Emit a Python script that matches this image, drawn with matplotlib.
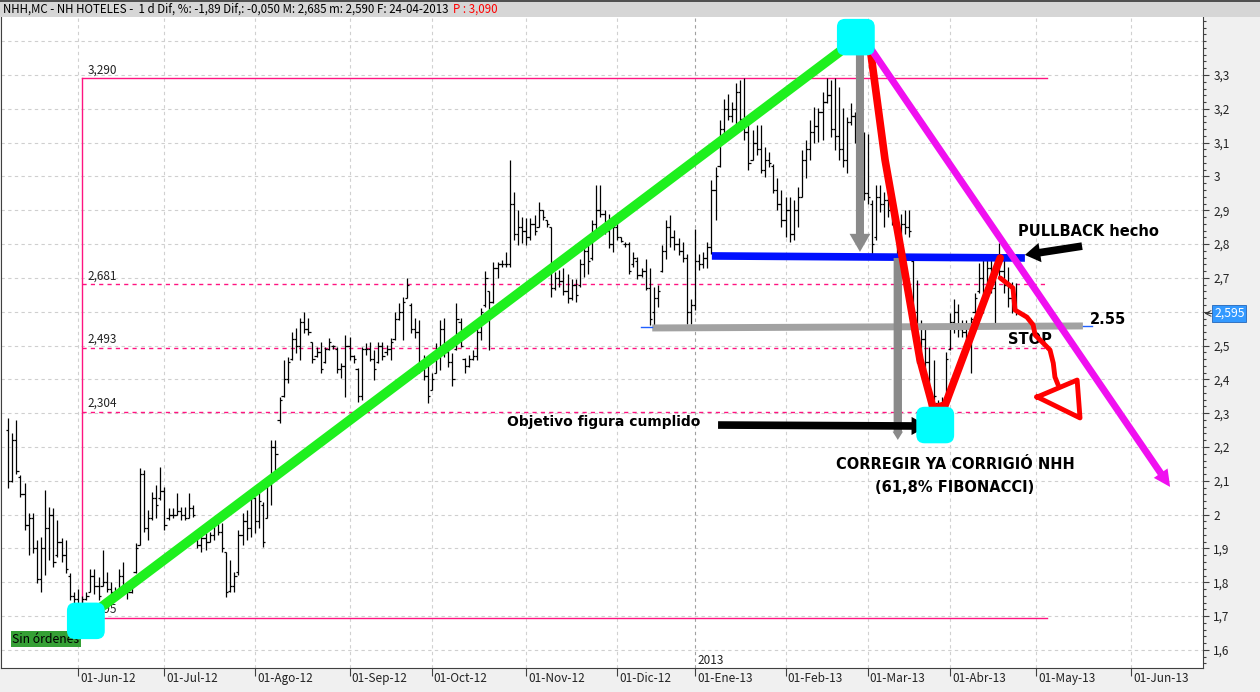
import matplotlib.pyplot as plt
import matplotlib.patches as mpatches
import matplotlib.ticker as mticker
import numpy as np
import pandas as pd

plt.rcParams['font.family'] = ['DejaVu Sans']
UI = ['Noto Sans CJK KR', 'DejaVu Sans']

# Barras diarias NHH.MC, 09-05-2012 .. 24-04-2013
highs = [
    2.285, 2.24, 2.28, 2.117, 2.093, 2.004, 2.004, 1.925, 1.935, 2.073,
    2.024, 2.019, 1.984, 1.93, 1.925, 1.827, 1.772, 1.78, 1.76, 1.772,
    1.84, 1.84, 1.817, 1.895, 1.83, 1.80, 1.787, 1.84, 1.86, 1.782,
    1.806, 1.915, 2.137, 2.132, 2.014, 2.068, 2.088, 2.142, 2.083, 2.019,
    2.019, 2.063, 2.024, 2.024, 2.063, 2.029, 1.955, 1.95, 1.945, 1.95,
    1.994, 1.994, 1.974, 1.89, 1.866, 1.831, 1.955, 2.004, 2.014, 2.068,
    2.053, 2.07, 2.037, 2.10, 2.221, 2.221, 2.349, 2.458, 2.467, 2.541,
    2.551, 2.581, 2.60, 2.581, 2.512, 2.497, 2.512, 2.497, 2.522, 2.502,
    2.497, 2.448, 2.531, 2.526, 2.472, 2.433, 2.497, 2.507, 2.512, 2.487,
    2.512, 2.512, 2.502, 2.522, 2.60, 2.625, 2.645, 2.699, 2.625, 2.581,
    2.576, 2.472, 2.458, 2.418, 2.507, 2.576, 2.581, 2.507, 2.477, 2.625,
    2.581, 2.462, 2.472, 2.487, 2.551, 2.61, 2.719, 2.66, 2.748, 2.748,
    2.753, 2.778, 3.049, 2.955, 2.90, 2.88, 2.876, 2.876, 2.886, 2.925,
    2.90, 2.87, 2.851, 2.718, 2.723, 2.728, 2.713, 2.698, 2.698, 2.757,
    2.792, 2.817, 2.871, 2.974, 2.974, 2.90, 2.89, 2.871, 2.89, 2.822,
    2.807, 2.807, 2.777, 2.762, 2.728, 2.757, 2.728, 2.674, 2.679, 2.797,
    2.871, 2.886, 2.841, 2.817, 2.807, 2.772, 2.639, 2.846, 2.772, 2.777,
    2.807, 2.989, 3.029, 3.167, 3.23, 3.245, 3.22, 3.275, 3.285, 3.29,
    3.152, 3.137, 3.152, 3.152, 3.088, 3.073, 3.038, 2.994, 2.96, 2.94,
    2.94, 2.93, 2.969, 3.078, 3.107, 3.167, 3.206, 3.201, 3.25, 3.29,
    3.285, 3.29, 3.265, 3.201, 3.176, 3.216, 3.191, 3.15, 3.13, 3.127,
    2.93, 2.974, 2.974, 2.955, 2.94, 2.91, 2.88, 2.89, 2.90, 2.90,
    2.752, 2.693, 2.575, 2.555, 2.496, 2.457, 2.339, 2.349, 2.482, 2.595,
    2.639, 2.624, 2.575, 2.575, 2.585, 2.654, 2.743, 2.752, 2.752, 2.757,
    2.772, 2.802, 2.762, 2.733, 2.688, 2.685]
lows = [
    2.078, 2.098, 2.12, 2.053, 1.955, 1.881, 1.886, 1.797, 1.772, 1.822,
    1.866, 1.846, 1.876, 1.861, 1.827, 1.748, 1.738, 1.70, 1.695, 1.748,
    1.77, 1.765, 1.748, 1.79, 1.77, 1.758, 1.748, 1.762, 1.767, 1.752,
    1.767, 1.827, 1.91, 1.95, 1.925, 1.984, 1.989, 2.043, 1.955, 1.984,
    1.989, 1.999, 1.984, 1.984, 1.989, 1.994, 1.90, 1.89, 1.895, 1.92,
    1.925, 1.94, 1.89, 1.758, 1.772, 1.772, 1.822, 1.91, 1.925, 1.935,
    1.945, 1.96, 1.904, 1.99, 2.03, 2.10, 2.27, 2.349, 2.388, 2.458,
    2.477, 2.458, 2.536, 2.531, 2.448, 2.467, 2.418, 2.448, 2.487, 2.49,
    2.418, 2.403, 2.349, 2.458, 2.448, 2.334, 2.339, 2.472, 2.453, 2.398,
    2.448, 2.458, 2.472, 2.458, 2.517, 2.576, 2.517, 2.64, 2.536, 2.522,
    2.418, 2.398, 2.33, 2.369, 2.418, 2.428, 2.467, 2.438, 2.379, 2.487,
    2.497, 2.418, 2.438, 2.458, 2.458, 2.517, 2.615, 2.487, 2.625, 2.699,
    2.733, 2.733, 2.733, 2.812, 2.797, 2.802, 2.797, 2.812, 2.827, 2.851,
    2.871, 2.851, 2.644, 2.664, 2.674, 2.649, 2.625, 2.634, 2.629, 2.674,
    2.703, 2.713, 2.753, 2.846, 2.881, 2.831, 2.787, 2.777, 2.812, 2.807,
    2.792, 2.713, 2.733, 2.698, 2.703, 2.664, 2.56, 2.56, 2.615, 2.718,
    2.757, 2.792, 2.782, 2.767, 2.748, 2.565, 2.565, 2.605, 2.723, 2.728,
    2.728, 2.772, 2.871, 3.029, 3.117, 3.167, 3.162, 3.152, 3.162, 3.107,
    3.019, 3.048, 3.063, 3.009, 2.999, 3.029, 2.95, 2.90, 2.851, 2.822,
    2.807, 2.812, 2.851, 2.94, 2.994, 3.048, 3.098, 3.102, 3.107, 3.216,
    3.117, 3.078, 3.048, 3.029, 3.009, 3.152, 3.098, 3.0, 2.93, 2.92,
    2.772, 2.812, 2.895, 2.851, 2.881, 2.856, 2.772, 2.772, 2.831, 2.822,
    2.575, 2.447, 2.486, 2.432, 2.319, 2.339, 2.30, 2.31, 2.319, 2.486,
    2.536, 2.526, 2.526, 2.496, 2.418, 2.595, 2.654, 2.595, 2.664, 2.654,
    2.565, 2.703, 2.654, 2.615, 2.595, 2.59]
opens = [
    2.25, 2.10, 2.22, 2.11, 2.06, 1.97, 1.99, 1.90, 1.81, 1.90,
    1.96, 2.00, 1.88, 1.92, 1.88, 1.82, 1.76, 1.75, 1.72, 1.75,
    1.77, 1.82, 1.79, 1.79, 1.80, 1.78, 1.77, 1.77, 1.82, 1.78,
    1.77, 1.83, 1.91, 2.12, 1.96, 1.99, 2.05, 2.05, 2.07, 1.99,
    2.00, 2.00, 2.01, 2.00, 1.99, 2.02, 1.95, 1.91, 1.93, 1.92,
    1.94, 1.98, 1.95, 1.89, 1.775, 1.79, 1.83, 1.94, 1.98, 1.96,
    2.05, 1.98, 2.03, 1.99, 2.09, 2.20, 2.28, 2.35, 2.40, 2.46,
    2.52, 2.50, 2.57, 2.55, 2.51, 2.47, 2.48, 2.45, 2.49, 2.50,
    2.49, 2.43, 2.44, 2.50, 2.47, 2.43, 2.35, 2.49, 2.49, 2.46,
    2.45, 2.50, 2.48, 2.49, 2.52, 2.58, 2.60, 2.64, 2.62, 2.55,
    2.54, 2.44, 2.41, 2.37, 2.42, 2.49, 2.55, 2.48, 2.45, 2.49,
    2.57, 2.46, 2.44, 2.46, 2.47, 2.54, 2.62, 2.66, 2.63, 2.73,
    2.74, 2.74, 2.74, 2.92, 2.83, 2.85, 2.84, 2.82, 2.86, 2.85,
    2.90, 2.87, 2.85, 2.67, 2.70, 2.69, 2.66, 2.64, 2.68, 2.68,
    2.74, 2.78, 2.76, 2.86, 2.90, 2.89, 2.84, 2.80, 2.85, 2.82,
    2.80, 2.80, 2.74, 2.75, 2.71, 2.72, 2.67, 2.60, 2.64, 2.72,
    2.78, 2.85, 2.82, 2.80, 2.78, 2.76, 2.60, 2.62, 2.75, 2.74,
    2.76, 2.79, 2.96, 3.03, 3.14, 3.20, 3.18, 3.20, 3.25, 3.17,
    3.13, 3.05, 3.10, 3.08, 3.02, 3.05, 3.03, 2.96, 2.92, 2.87,
    2.90, 2.83, 2.90, 2.94, 3.05, 3.08, 3.13, 3.15, 3.19, 3.22,
    3.24, 3.14, 3.12, 3.08, 3.05, 3.16, 3.18, 3.11, 3.02, 2.95,
    2.92, 2.82, 2.94, 2.92, 2.93, 2.90, 2.87, 2.79, 2.86, 2.85,
    2.75, 2.60, 2.50, 2.52, 2.45, 2.34, 2.33, 2.32, 2.33, 2.49,
    2.57, 2.60, 2.55, 2.54, 2.52, 2.60, 2.66, 2.70, 2.67, 2.73,
    2.67, 2.75, 2.72, 2.68, 2.64, 2.645]
closes = [
    2.10, 2.22, 2.13, 2.06, 1.97, 1.99, 1.90, 1.81, 1.90, 1.96,
    2.00, 1.86, 1.92, 1.88, 1.84, 1.76, 1.75, 1.72, 1.75, 1.76,
    1.82, 1.79, 1.76, 1.80, 1.78, 1.77, 1.76, 1.82, 1.78, 1.77,
    1.79, 1.90, 2.12, 1.96, 1.99, 2.05, 2.03, 2.07, 1.97, 2.00,
    2.00, 2.01, 2.00, 1.99, 2.02, 2.00, 1.91, 1.93, 1.92, 1.94,
    1.98, 1.95, 1.90, 1.77, 1.79, 1.82, 1.94, 1.98, 1.96, 2.05,
    1.98, 2.04, 1.92, 2.09, 2.20, 2.18, 2.34, 2.40, 2.45, 2.52,
    2.50, 2.57, 2.55, 2.54, 2.46, 2.48, 2.43, 2.49, 2.51, 2.50,
    2.43, 2.44, 2.50, 2.47, 2.46, 2.35, 2.49, 2.49, 2.46, 2.43,
    2.50, 2.47, 2.49, 2.51, 2.58, 2.60, 2.63, 2.68, 2.55, 2.54,
    2.44, 2.41, 2.35, 2.40, 2.49, 2.55, 2.48, 2.45, 2.40, 2.58,
    2.50, 2.44, 2.46, 2.47, 2.54, 2.60, 2.70, 2.63, 2.73, 2.74,
    2.74, 2.74, 2.92, 2.83, 2.85, 2.84, 2.82, 2.86, 2.84, 2.90,
    2.88, 2.86, 2.67, 2.70, 2.69, 2.66, 2.64, 2.68, 2.65, 2.74,
    2.78, 2.75, 2.86, 2.90, 2.89, 2.84, 2.80, 2.85, 2.82, 2.81,
    2.80, 2.72, 2.76, 2.71, 2.72, 2.67, 2.58, 2.64, 2.66, 2.78,
    2.85, 2.82, 2.80, 2.78, 2.76, 2.60, 2.62, 2.75, 2.74, 2.76,
    2.79, 2.96, 3.00, 3.14, 3.20, 3.18, 3.20, 3.25, 3.17, 3.13,
    3.04, 3.10, 3.08, 3.02, 3.05, 3.04, 2.96, 2.92, 2.87, 2.90,
    2.83, 2.90, 2.94, 3.05, 3.08, 3.13, 3.15, 3.19, 3.22, 3.24,
    3.14, 3.12, 3.08, 3.05, 3.16, 3.18, 3.11, 3.02, 2.95, 2.94,
    2.80, 2.94, 2.92, 2.93, 2.90, 2.87, 2.79, 2.86, 2.85, 2.84,
    2.60, 2.50, 2.52, 2.45, 2.34, 2.35, 2.32, 2.33, 2.46, 2.57,
    2.60, 2.55, 2.54, 2.52, 2.58, 2.64, 2.70, 2.66, 2.73, 2.67,
    2.75, 2.72, 2.68, 2.64, 2.645, 2.595]

festivos = ['2012-12-25', '2012-12-26', '2013-01-01', '2013-03-29', '2013-04-01']
meses = ['Ene', 'Feb', 'Mar', 'Abr', 'May', 'Jun', 'Jul', 'Ago', 'Sep', 'Oct', 'Nov', 'Dic']
inicios_mes = pd.date_range('2012-06-01', '2013-06-01', freq='MS')

# Fibonacci (minimo 1,695 -> maximo 3,290)
fib_extremos = [3.290, 1.695]
fib_niveles = [2.681, 2.493, 2.304]
fib_fin = 252.5

ultimo = 2.595
cabecera = 'NHH,MC - NH HOTELES -  1 d Dif, %: -1,89 Dif,: -0,050 M: 2,685 m: 2,590 F: 24-04-2013'
cabecera_p = 'P : 3,090'

# dibujos a mano sobre el grafico (indice de barra, precio)
verde = ([19.4, 204.7], [1.697, 3.392])
magenta = ((208.6, 3.398), (282.5, 2.082))
rojo = ([208.6, 209.8, 213.2, 217.5, 221.7, 224.9, 227.8, 241.2],
        [3.403, 3.359, 3.049, 2.753, 2.458, 2.315, 2.324, 2.759])
rojo_garabato = ([241.2, 244.3, 244.8, 247.7, 249.2, 249.7, 251.6, 253.3, 254.1, 254.5, 255.3],
                 [2.700, 2.670, 2.605, 2.584, 2.561, 2.531, 2.508, 2.487, 2.448, 2.407, 2.383])
rojo_punta = ([250.2, 259.9, 260.6, 250.2], [2.348, 2.398, 2.286, 2.348])
azul = ([171.1, 247.2], [2.765, 2.759])
stop = ([156.6, 261.3], [2.552, 2.558])
cajas = [(18.9, 1.686), (206.1, 3.412), (225.4, 2.265)]

dias = pd.bdate_range('2012-05-09', '2013-04-24', freq='C', holidays=festivos)
calendario = dias.append(pd.bdate_range('2013-04-25', '2013-07-31'))
x = np.arange(len(highs))

fig = plt.figure(figsize=(12.6, 6.92), dpi=100, facecolor='#f0f0f0')
ax = fig.add_axes([1 / 1260, 24 / 692, 1202 / 1260, 651 / 692])
ax.set_facecolor('white')
ax.set_xlim(-1.73, 290.5)
ax.set_ylim(1.5466, 3.4715)

# rejilla
for v in np.arange(1.6, 3.45, 0.1):
    ax.axhline(v, color='#cfcfcf', lw=0.8, dashes=(3, 3), zorder=0)
ticks = [calendario.searchsorted(d) for d in inicios_mes]
for d, t in zip(inicios_mes, ticks):
    c = '#a0a0a0' if d.month == 1 else '#d0d0d0'
    ax.axvline(t, color=c, lw=0.8, dashes=(3, 3), zorder=0)

# Fibonacci
rosa = '#ff1480'
i_min = int(np.argmin(lows))
ax.plot([i_min, i_min], fib_extremos[::-1], color=rosa, lw=1, zorder=1)
for v in fib_extremos:
    ax.plot([i_min, fib_fin], [v, v], color=rosa, lw=1, zorder=1)
for v in fib_niveles:
    ax.plot([i_min, fib_fin], [v, v], color=rosa, lw=1, dashes=(3, 3), zorder=1)
for v in fib_extremos + fib_niveles:
    ax.annotate(f'{v:.3f}'.replace('.', ','), (i_min, v), xytext=(4, 1.5),
                textcoords='offset points', fontsize=8.5, family=UI, color='#222222',
                va='bottom', zorder=1)

# barras OHLC
ax.vlines(x, lows, highs, color='black', lw=0.9, zorder=2)
ax.hlines(opens, x - 0.55, x, color='black', lw=0.9, zorder=2)
ax.hlines(closes, x, x + 0.55, color='black', lw=0.9, zorder=2)

# lineas dibujadas
ax.plot(*stop, color='#a2a2a2', lw=5, solid_capstyle='butt', zorder=3)
ax.plot([stop[0][0] - 2.7, stop[0][0]], [2.555, 2.555], color='#2060ff', lw=1, zorder=3)
ax.plot([stop[0][1], stop[0][1] + 2.2], [2.558, 2.558], color='#2060ff', lw=1, zorder=3)
ax.plot(*azul, color='#0010ff', lw=5.5, solid_capstyle='butt', zorder=3)
ax.plot(*verde, color='#1ef01e', lw=7, solid_capstyle='butt', zorder=4)


def flecha(xy, xytext, color, tail, hw, hl, z):
    ax.annotate('', xy=xy, xytext=xytext, zorder=z,
                arrowprops=dict(arrowstyle=f'simple,head_length={hl},head_width={hw},tail_width={tail}',
                                mutation_scale=1, fc=color, ec='none', lw=0,
                                shrinkA=0, shrinkB=0))


flecha((207.1, 2.777), (207.1, 3.389), '#8a8a8a', 5.8, 15, 13, 4)
flecha((216.3, 2.221), (216.3, 2.759), '#8a8a8a', 6, 7.5, 6, 4)
ax.text(243.1, 2.519, 'STOP', fontsize=10.5, fontweight='bold', va='center', zorder=4.5)
ax.plot(*rojo, color='#ff0000', lw=5.5, solid_capstyle='round', solid_joinstyle='round', zorder=5)
ax.plot(*rojo_garabato, color='#ff0000', lw=3.5, solid_capstyle='round', solid_joinstyle='round', zorder=5)
ax.plot(*rojo_punta, color='#ff0000', lw=3.5, solid_joinstyle='round', zorder=5)
flecha(magenta[1], magenta[0], '#f010f0', 5, 12, 12, 5)
flecha((223.7, 2.262), (172.6, 2.265), 'black', 5.5, 13, 12, 6)
flecha((247.2, 2.768), (261.1, 2.794), 'black', 5.5, 14, 11, 6)

ax.text(245.5, 2.836, 'PULLBACK hecho', fontsize=10.5, fontweight='bold', va='center', zorder=6)
ax.text(121.3, 2.274, 'Objetivo figura cumplido', fontsize=10, fontweight='bold', va='center', zorder=6)
ax.text(263.0, 2.576, '2.55', fontsize=10.5, fontweight='bold', va='center', zorder=6)
ax.text(230.2, 2.147, 'CORREGIR YA CORRIGIÓ NHH', fontsize=10.5, fontweight='bold',
        ha='center', va='center', zorder=6)
ax.text(230.2, 2.079, '(61,8% FIBONACCI)', fontsize=10.5, fontweight='bold',
        ha='center', va='center', zorder=6)

ax.text(0.0095, 0.0445, 'Sin órdenes', transform=ax.transAxes, fontsize=8.8, family=UI,
        va='center', ha='left', zorder=6,
        bbox=dict(boxstyle='square,pad=0.15', fc='#35a035', ec='none'))

# cajas cian redondeadas
asp = 4.113 / 338.2
for cx, cy in cajas:
    w, h = 9.2, 0.108
    ax.add_patch(mpatches.FancyBboxPatch((cx - w / 2, cy - h / 2), w, h,
                                         boxstyle='round,pad=0,rounding_size=2.0',
                                         mutation_aspect=asp, fc='#00ffff', ec='none', zorder=8))

# ejes
ax.spines['top'].set_visible(False)
for s in ['left', 'right', 'bottom']:
    ax.spines[s].set_color('#404040')
ax.yaxis.tick_right()
ax.set_yticks(np.round(np.arange(1.6, 3.35, 0.1), 1))


def etiqueta(v, p):
    # la etiqueta 2,6 queda tapada por la marca del ultimo precio
    if abs(v - ultimo) < 0.03:
        return ''
    return f'{v:g}'.replace('.', ',')


ax.yaxis.set_major_formatter(mticker.FuncFormatter(etiqueta))
ax.yaxis.set_minor_locator(mticker.MultipleLocator(0.02))
ax.tick_params(axis='y', which='major', length=4.5, width=0.8, color='#404040', pad=3,
               labelsize=8.5, labelcolor='#222222')
ax.tick_params(axis='y', which='minor', length=2.3, width=0.8, color='#404040')
for lab in ax.get_yticklabels():
    lab.set_family(UI)
ax.set_xticks(ticks)
ax.set_xticklabels([])
ax.tick_params(axis='x', length=6, width=0.8, color='#404040')
for d, t in zip(inicios_mes, ticks):
    ax.annotate(f'01-{meses[d.month - 1]}-{d.strftime("%y")}', (t, 0), xycoords=('data', 'axes fraction'),
                xytext=(1.5, -7.5), textcoords='offset points', fontsize=8.5, family=UI,
                color='#222222', ha='left', va='center', annotation_clip=False)
    if d.month == 1:
        ax.annotate(str(d.year), (t, 0), xycoords=('data', 'axes fraction'), xytext=(1.5, 5.5),
                    textcoords='offset points', fontsize=8.5, family=UI, color='#222222',
                    ha='left', va='center')

# ultimo precio en el eje
ax.annotate(f'{ultimo:.3f}'.replace('.', ','), (1, ultimo), xycoords=('axes fraction', 'data'),
            xytext=(8, 0), textcoords='offset points', fontsize=8.8, family=UI, color='white',
            ha='left', va='center', annotation_clip=False, zorder=9,
            bbox=dict(boxstyle='square,pad=0.15', fc='#3399ff', ec='#2266bb', lw=0.6))
ax.annotate('', (1.0012, ultimo), xycoords=('axes fraction', 'data'), xytext=(6, 0),
            textcoords='offset points', annotation_clip=False,
            arrowprops=dict(arrowstyle='->', lw=0.7, color='#333333', shrinkA=0, shrinkB=0))

# cabecera
fig.add_artist(mpatches.Rectangle((0, 1 - 17 / 692), 1, 17 / 692, transform=fig.transFigure,
                                  fc='#d6d6d6', ec='none'))
fig.add_artist(mpatches.Rectangle((0, 1 - 1.5 / 692), 1, 1.5 / 692, transform=fig.transFigure,
                                  fc='#505050', ec='none'))
fig.text(3 / 1260, 1 - 9 / 692, cabecera, fontsize=8.3, family=UI, va='center', ha='left')
fig.text(453 / 1260, 1 - 9 / 692, cabecera_p, fontsize=8.3, family=UI, va='center', ha='left',
         color='#ff0000')

fig.savefig('out.png', dpi=100, facecolor=fig.get_facecolor())
